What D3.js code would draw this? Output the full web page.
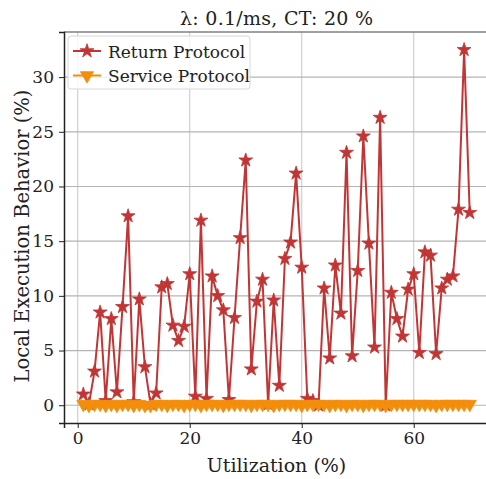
<!DOCTYPE html>
<html>
<head>
<meta charset="utf-8">
<script src="https://cdn.jsdelivr.net/npm/d3@7"></script>
<style>
  body { margin: 0; background: #fff; }
  svg { display: block; }
  text { fill: #222; }
</style>
</head>
<body>
<div class="container"></div>
<script>
// chart data
var utilization = d3.range(1, 71); // 1..70 %
var returnProto = [1.0, 0.1, 3.1, 8.5, 0.4, 7.9, 1.2, 9.0, 17.3, 0.3,
                   9.7, 3.5, 0.1, 1.1, 10.8, 11.1, 7.3, 5.9, 7.2, 12.0,
                   0.8, 16.9, 0.6, 11.8, 10.0, 8.7, 0.5, 8.0, 15.3, 22.4,
                   3.3, 9.5, 11.5, 0.1, 9.6, 1.8, 13.4, 14.9, 21.2, 12.6,
                   0.6, 0.4, 0.0, 10.7, 4.3, 12.8, 8.4, 23.1, 4.5, 12.3,
                   24.6, 14.8, 5.3, 26.3, 0.0, 10.3, 7.9, 6.3, 10.6, 12.0,
                   4.8, 14.0, 13.7, 4.7, 10.7, 11.5, 11.8, 17.9, 32.5, 17.6];
var serviceProto = [0.1, 0.0, 0.1, 0.1, 0.0, 0.1, 0.0, 0.1, 0.1, 0.0,
                    0.1, 0.0, 0.0, 0.1, 0.1, 0.0, 0.1, 0.1, 0.0, 0.1,
                    0.1, 0.0, 0.1, 0.1, 0.1, 0.0, 0.1, 0.1, 0.1, 0.1,
                    0.0, 0.1, 0.1, 0.1, 0.0, 0.1, 0.1, 0.1, 0.1, 0.0,
                    0.1, 0.1, 0.1, 0.1, 0.0, 0.1, 0.1, 0.0, 0.1, 0.1,
                    0.0, 0.1, 0.1, 0.1, 0.0, 0.1, 0.1, 0.1, 0.1, 0.1,
                    0.1, 0.1, 0.1, 0.0, 0.1, 0.1, 0.1, 0.1, 0.1, 0.1];
var xTicks = [0, 20, 40, 60];
var yTicks = [0, 5, 10, 15, 20, 25, 30];
var seriesNames = ["Return Protocol", "Service Protocol"];
var colors = ["#c23535", "#f28e0c"];

var W = 486, H = 479;
var plot = {left: 64, top: 32, bottom: 423};

// matplotlib-style 5% margins
function padded(ext) {
  var d = (ext[1] - ext[0]) * 0.05;
  return [ext[0] - d, ext[1] + d];
}
var xDom = padded(d3.extent(utilization));
var yDom = padded([0, d3.max(returnProto)]);

var x = d3.scaleLinear().domain(xDom).range([plot.left, plot.left + (xDom[1] - xDom[0]) * 5.6]);
var y = d3.scaleLinear().domain(yDom).range([plot.bottom, plot.top]);

var svg = d3.select(".container").append("svg")
  .attr("width", W).attr("height", H);

svg.append("defs").append("clipPath").attr("id", "clip")
  .append("rect")
  .attr("x", plot.left).attr("y", plot.top - 6)
  .attr("width", x.range()[1] - plot.left).attr("height", plot.bottom - plot.top + 6);

// grid
var grid = svg.append("g");
grid.selectAll("line.gx").data(xTicks).enter().append("line")
  .attr("x1", function(d) { return x(d); }).attr("x2", function(d) { return x(d); })
  .attr("y1", plot.top).attr("y2", plot.bottom)
  .attr("stroke", "#cfcfcf").attr("stroke-width", 1.2);
grid.selectAll("line.gy").data(yTicks).enter().append("line")
  .attr("x1", plot.left).attr("x2", x.range()[1])
  .attr("y1", function(d) { return y(d); }).attr("y2", function(d) { return y(d); })
  .attr("stroke", "#b4b4b4").attr("stroke-width", 1.2);

// spines
svg.append("line").attr("x1", plot.left).attr("x2", x.range()[1])
  .attr("y1", plot.top).attr("y2", plot.top)
  .attr("stroke", "#808080").attr("stroke-width", 1.5);

// axes
var xAxis = svg.append("g").attr("transform", "translate(0," + plot.bottom + ")")
  .call(d3.axisBottom(x).tickValues(xTicks).tickSize(5).tickPadding(4));
var yAxis = svg.append("g").attr("transform", "translate(" + plot.left + ",0)")
  .call(d3.axisLeft(y).tickValues(yTicks).tickSize(5).tickPadding(5));
[xAxis, yAxis].forEach(function(a) {
  a.attr("font-family", "DejaVu Serif").attr("font-size", 17);
  a.select(".domain").attr("stroke", "#222").attr("stroke-width", 1.5);
  a.selectAll(".tick line").attr("stroke", "#222").attr("stroke-width", 1);
  a.selectAll(".tick text").attr("fill", "#222");
});

// series
var body = svg.append("g").attr("clip-path", "url(#clip)");
var series = [returnProto, serviceProto];
var line = d3.line()
  .x(function(d, i) { return x(utilization[i]); })
  .y(function(d) { return y(d); });
var starSym = d3.symbol().type(d3.symbolStar).size(60);
var triSym = d3.symbol().type(d3.symbolTriangle).size(75);

series.forEach(function(vals, k) {
  body.append("path").datum(vals)
    .attr("d", line).attr("fill", "none")
    .attr("stroke", colors[k]).attr("stroke-width", 2);
  body.selectAll("path.m" + k).data(vals).enter().append("path")
    .attr("class", "m" + k)
    .attr("d", k == 0 ? starSym : triSym)
    .attr("transform", function(d, i) {
      return "translate(" + x(utilization[i]) + "," + y(d) + ")" + (k == 1 ? " rotate(180)" : "");
    })
    .attr("fill", colors[k]).attr("stroke", colors[k]).attr("stroke-width", 0.8);
});

// legend
var lg = svg.append("g").attr("font-family", "DejaVu Serif");
lg.append("rect").attr("x", 68).attr("y", 36).attr("width", 182).attr("height", 53)
  .attr("rx", 3).attr("fill", "#fff").attr("fill-opacity", 0.8)
  .attr("stroke", "#d8d8d8");
seriesNames.forEach(function(name, k) {
  var ly = 51 + k * 24.5;
  lg.append("line").attr("x1", 73).attr("x2", 101).attr("y1", ly).attr("y2", ly)
    .attr("stroke", colors[k]).attr("stroke-width", 2);
  lg.append("path").attr("d", k == 0 ? starSym : triSym)
    .attr("transform", "translate(87," + ly + ")" + (k == 1 ? " rotate(180)" : ""))
    .attr("fill", colors[k]).attr("stroke", colors[k]).attr("stroke-width", 0.8);
  lg.append("text").attr("x", 108).attr("y", ly + 6.5).attr("font-size", 17).text(name);
});

// labels
var cx = (plot.left + x.range()[1]) / 2;
var lab = svg.append("g").attr("font-family", "DejaVu Serif").attr("font-size", 19);
lab.append("text").attr("x", cx).attr("y", 25).attr("text-anchor", "middle")
  .attr("textLength", 193).attr("lengthAdjust", "spacing")
  .text("λ: 0.1/ms, CT: 20 %");
lab.append("text").attr("x", cx).attr("y", 472).attr("text-anchor", "middle")
  .text("Utilization (%)");
lab.append("text").attr("transform", "translate(29,236) rotate(-90)")
  .attr("text-anchor", "middle").attr("font-size", 19.5).text("Local Execution Behavior (%)");
</script>
</body>
</html>
